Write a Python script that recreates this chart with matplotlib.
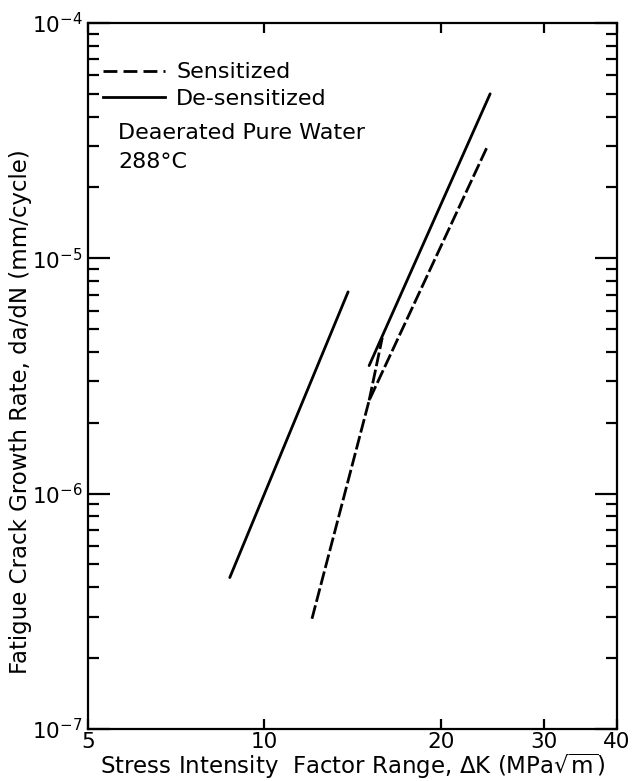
import matplotlib
matplotlib.use("Agg")
import matplotlib.pyplot as plt
from matplotlib.lines import Line2D
from matplotlib.ticker import FixedLocator, NullLocator, LogLocator, NullFormatter

plt.rcParams['font.family'] = ['DejaVu Sans']
plt.rcParams['mathtext.fontset'] = 'dejavusans'

# de-sensitized (solid), two segments
desens_lo_dk = [8.73, 13.9]
desens_lo_rate = [4.4e-7, 7.2e-6]
desens_hi_dk = [15.1, 24.3]
desens_hi_rate = [3.5e-6, 5.0e-5]

# sensitized (dashed)
sens_dk = [12.06, 15.1, 24.1]
sens_rate = [2.94e-7, 2.49e-6, 3.03e-5]
sens_branch_dk = [15.1, 15.9]
sens_branch_rate = [2.49e-6, 4.6e-6]

xticks = [5, 10, 20, 30, 40]
xtick_labels = ["5", "10", "20", "30", "40"]

fig = plt.figure(figsize=(6.36, 7.81), dpi=100)
ax = fig.add_axes([0.1384, 0.0666, 0.8316, 0.904])

lw = 2.0
dash = (0, (5, 1.3))
ax.plot(desens_lo_dk, desens_lo_rate, color="black", lw=lw, solid_capstyle="round")
ax.plot(desens_hi_dk, desens_hi_rate, color="black", lw=lw, solid_capstyle="round")
ax.plot(sens_dk, sens_rate, color="black", lw=lw, ls=dash)
ax.plot(sens_branch_dk, sens_branch_rate, color="black", lw=lw, ls=dash)

ax.set_xscale("log")
ax.set_yscale("log")
ax.set_xlim(5, 40)
ax.set_ylim(1e-7, 1e-4)

ax.xaxis.set_major_locator(FixedLocator(xticks))
ax.set_xticklabels(xtick_labels)
ax.xaxis.set_minor_locator(NullLocator())
ax.yaxis.set_major_locator(LogLocator(base=10, numticks=10))
ax.yaxis.set_minor_locator(LogLocator(base=10, subs=range(2, 10), numticks=20))
ax.yaxis.set_minor_formatter(NullFormatter())

ax.tick_params(axis="both", which="both", direction="in", top=True, right=True,
               labelsize=15.5, width=1.6)
ax.tick_params(axis="x", which="major", length=7, pad=2)
ax.tick_params(axis="y", which="major", length=16, pad=4)
ax.tick_params(axis="y", which="minor", length=8)
for sp in ax.spines.values():
    sp.set_linewidth(1.6)

ax.set_xlabel(r"Stress Intensity  Factor Range, $\Delta$K (MPa$\sqrt{\mathrm{m}}$)",
              fontsize=16.5, labelpad=0)
ax.set_ylabel("Fatigue Crack Growth Rate, da/dN (mm/cycle)", fontsize=16.5)
ax.yaxis.set_label_coords(-0.105, 0.45)

handles = [
    Line2D([], [], color="black", lw=lw, ls=(0, (5, 2.2))),
    Line2D([], [], color="black", lw=lw),
]
ax.legend(handles, ["Sensitized", "De-sensitized"], loc="upper left",
          bbox_to_anchor=(0.028, 0.944), frameon=False, fontsize=16,
          handlelength=2.8, handletextpad=0.5, labelspacing=0.29,
          borderpad=0, borderaxespad=0)
ax.text(0.057, 0.844, "Deaerated Pure Water", transform=ax.transAxes,
        fontsize=16, va="center", ha="left")
ax.text(0.057, 0.803, "288°C", transform=ax.transAxes,
        fontsize=16, va="center", ha="left")

fig.savefig("out.png", dpi=100)
